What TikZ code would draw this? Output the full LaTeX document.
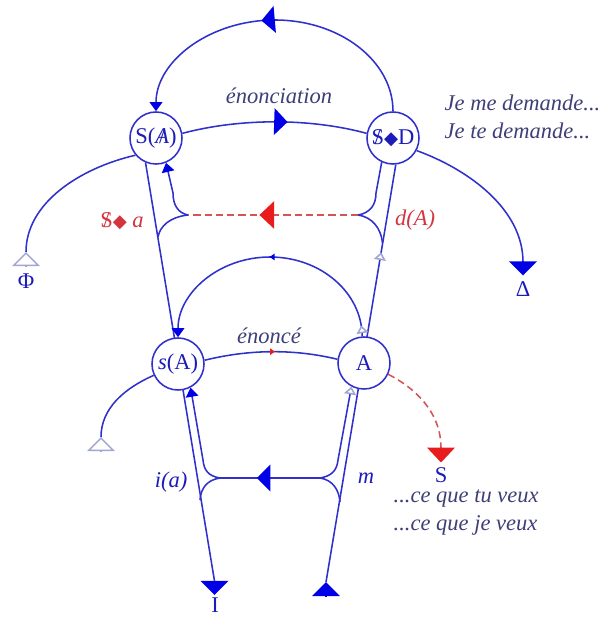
\documentclass[tikz,border=0pt]{standalone}
\usepackage{fontspec}
\setmainfont{Liberation Serif}
\newfontfamily\dejavu{DejaVu Sans}
\usetikzlibrary{arrows.meta, decorations.markings, backgrounds}

\definecolor{lineblue}{RGB}{48,48,205}
\definecolor{tipblue}{RGB}{0,0,230}
\definecolor{textgray}{RGB}{62,62,120}
\definecolor{labelblue}{RGB}{28,28,185}
\definecolor{labelred}{RGB}{212,52,62}
\definecolor{dashred}{RGB}{212,85,85}
\definecolor{tipred}{RGB}{232,28,28}
\definecolor{hollowblue}{RGB}{160,165,210}

\newcommand{\barS}{\ooalign{S\cr\hidewidth/\hidewidth\cr}}
\newcommand{\barA}{\ooalign{\textit{A}\cr\hidewidth/\hidewidth\cr}}
\newcommand{\losange}{{\dejavu\fontsize{13}{13}\selectfont ◆}}

\tikzset{
  bigtip/.tip={Triangle[length=9.5pt, width=19pt, color=tipblue]},
  endtip/.tip={Triangle[length=10pt, width=19.5pt, color=tipblue]},
  bigredtip/.tip={Triangle[length=10.5pt, width=19.5pt, color=tipred]},
  smalltip/.tip={Triangle[length=6.5pt, width=9pt, color=tipblue]},
  tinytip/.tip={Triangle[length=3.5pt, width=4.5pt, color=tipblue]},
  tinyredtip/.tip={Triangle[length=3.5pt, width=4.5pt, color=tipred]},
  hollowtip/.tip={Triangle[length=5.5pt, width=8.5pt, color=hollowblue, fill=white]},
  bighollowtip/.tip={Triangle[length=10pt, width=19.5pt, color=hollowblue, fill=white]},
  place/.style={circle, draw=lineblue, fill=white, line width=1.1pt, minimum size=1.3cm, inner sep=0pt, text=labelblue},
  chain/.style={draw=lineblue, line width=1.1pt},
  desire/.style={draw=dashred, line width=1.1pt, dash pattern=on 5pt off 3pt},
  stub/.style={draw=#1, line width=1pt},
  gloss/.style={text=textgray, font=\fontsize{16}{19}\selectfont\itshape, inner sep=1pt},
  midtip/.style 2 args={postaction={decorate, decoration={markings, mark=at position #1 with {\arrow{#2}}}}},
}

\begin{document}
\begin{tikzpicture}[x=0.025cm, y=-0.025cm, font=\fontsize{16}{19}\selectfont]
\useasboundingbox (0,0) rectangle (603,617);

% the four places
\node[place] (SA) at (156,138) {S(\barA)};
\node[place] (SD) at (393,138) {\barS\losange D};
\node[place] (sA) at (178,364) {\textit{s}(A)};
\node[place] (A) at (364,363) {A};

\coordinate (I) at (214.5,581);
\coordinate (base) at (326,582);
\coordinate (delta) at (523,262);
\coordinate (phi) at (26,252);
\coordinate (moi) at (101,437);
\coordinate (S) at (441,448);
\coordinate (dl) at (188,215);
\coordinate (dr) at (358,215);
\coordinate (hl) at (220,478);
\coordinate (hr) at (320,478);

\begin{scope}[on background layer]
    % the two long vectors
    \draw[chain] (SA.-113) -- (I);
    \draw[stub=tipblue, -{endtip}] (I) -- ++(0,14);
    \draw[chain, midtip={0.79}{hollowtip}] (base) -- (SD.-84);
    \draw[stub=tipblue, -{endtip}] (326,596) -- (base);

    % upper level
    \draw[chain, -{smalltip}, midtip={0.54}{bigtip}] (SD.north) .. controls (393,61) and (340,20) .. (275,20) .. controls (210,20) and (156,61) .. (SA.north);
    \draw[chain, midtip={0.57}{bigtip}] (SA.10) .. controls (240,118) and (310,118) .. (SD.170);
    \draw[chain] (SA.-140) .. controls (80,168) and (26,203) .. (phi);
    \draw[stub=hollowblue, -{bighollowtip}] (26,265.5) -- (phi);
    \draw[chain] (SD.-28) .. controls (470,170) and (523,210) .. (delta);
    \draw[stub=tipblue, -{endtip}] (delta) -- ++(0,13.5);

    \draw[chain, -{smalltip}] (dl) .. controls (178,213) and (173,205) .. (173,193) -- (SA.-68);
    \draw[chain] (dl) .. controls (170,217) and (160,226) .. (158,237);
    \draw[chain] (dr) .. controls (370,213) and (376,205) .. (376,193) -- (SD.-115);
    \draw[chain] (dr) .. controls (372,217) and (381,228) .. (382.5,243);
    \draw[desire, midtip={0.58}{bigredtip}] (dr) -- (dl);

    % lower level
    \draw[chain, -{smalltip}, midtip={0.04}{hollowtip}, midtip={0.5}{tinytip}] (A.94) .. controls (362,293) and (321,257) .. (270,257) .. controls (219,257) and (178,293) .. (sA.north);
    \draw[chain, midtip={0.53}{tinyredtip}] (sA.8) .. controls (250,349) and (295,349) .. (A.172);
    \draw[chain] (sA.-155) .. controls (125,388) and (101,408) .. (moi);
    \draw[stub=hollowblue, -{bighollowtip}] (101,450.5) -- (moi);

    \draw[chain, -{smalltip}] (hl) .. controls (208,476) and (204,470) .. (203,460) -- (sA.-62);
    \draw[chain] (hl) .. controls (207,480) and (201,488) .. (200,500);
    \draw[chain, -{hollowtip}] (hr) .. controls (332,476) and (337,470) .. (338,460) -- (A.-118);
    \draw[chain] (hr) .. controls (333,480) and (339,490) .. (340,502);
    \draw[chain, midtip={0.63}{bigtip}] (hr) -- (hl);

    \draw[desire] (A.-25) .. controls (415,388) and (441,412) .. (S);
    \draw[stub=tipred, -{bigredtip}] (S) -- ++(0,14.5);
\end{scope}

% labels
\node[gloss] (enonciation) at (279,96) {énonciation};
\node[gloss] (enonce) at (269,336) {énoncé};
\node[gloss, anchor=west] (moidemande) at (443,103) {Je me demande...};
\node[gloss, anchor=west] (toidemande) at (443,131) {Je te demande...};
\node[gloss, anchor=west] (tuveux) at (392,499) {...ce que tu veux};
\node[gloss, anchor=west] (jeveux) at (392,525) {...ce que je veux};

\node[text=labelred] (fantasme) at (122,221) {\barS\losange\ \textit{a}};
\node[text=labelred] (desir) at (415,220) {\textit{d(A)}};
\node[text=labelblue] (image) at (171,482) {\textit{i(a)}};
\node[text=labelblue] (moitie) at (366,478) {\textit{m}};

\node[text=labelblue] (Phi) at (26,281) {Φ};
\node[text=labelblue] (Delta) at (523,289) {Δ};
\node[text=labelblue, inner sep=1pt] (Ideal) at (215,605) {I};
\node[text=labelblue, inner sep=1pt] (Sujet) at (441,475) {S};
\end{tikzpicture}
\end{document}
